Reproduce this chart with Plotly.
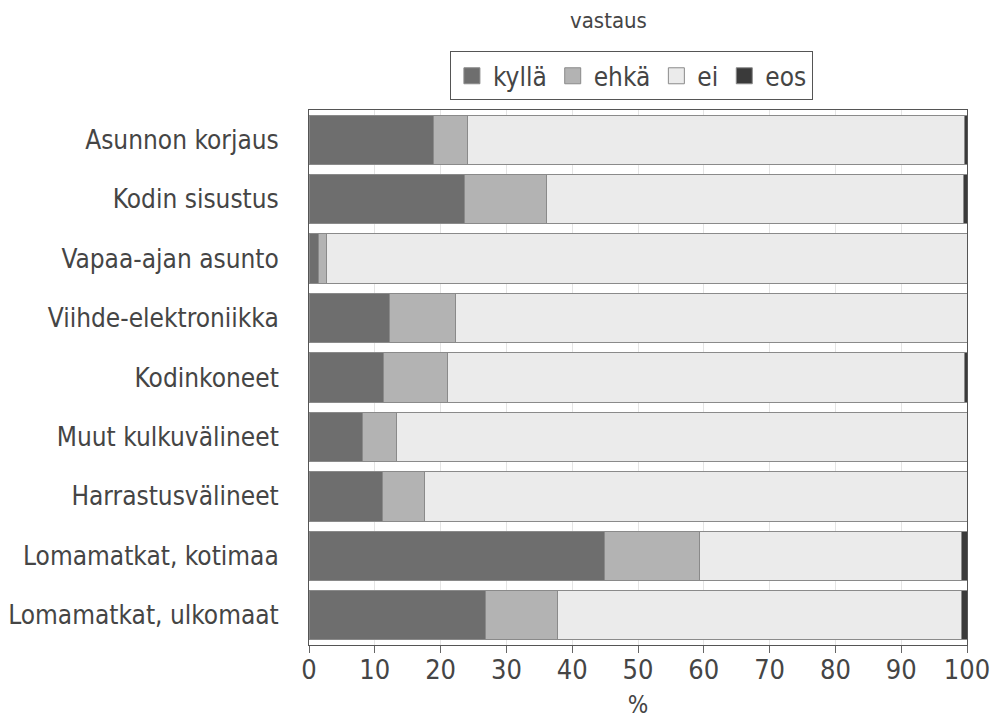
import plotly.graph_objects as go

categories = [
    "Asunnon korjaus",
    "Kodin sisustus",
    "Vapaa-ajan asunto",
    "Viihde-elektroniikka",
    "Kodinkoneet",
    "Muut kulkuvälineet",
    "Harrastusvälineet",
    "Lomamatkat, kotimaa",
    "Lomamatkat, ulkomaat",
]

kylla = [18.9, 23.6, 1.4, 12.3, 11.3, 8.2, 11.1, 44.9, 26.8]
ehka = [5.2, 12.5, 1.2, 9.9, 9.8, 5.1, 6.4, 14.4, 10.9]
eos = [0.4, 0.5, 0.0, 0.0, 0.4, 0.0, 0.0, 0.8, 0.9]
ei = [round(100 - k - e - o, 1) for k, e, o in zip(kylla, ehka, eos)]

series = [
    ("kyllä", kylla, "#6e6e6e"),
    ("ehkä", ehka, "#b3b3b3"),
    ("ei", ei, "#ebebeb"),
    ("eos", eos, "#3a3a3a"),
]

FONT = "DejaVu Sans Condensed, Roboto, sans-serif"
TXT = "#454545"

fig = go.Figure()
for name, vals, col in series:
    fig.add_trace(go.Bar(
        y=categories, x=vals, name=name, orientation="h", showlegend=False,
        marker=dict(color=col, line=dict(color="#8a8a8a", width=1)),
    ))
# legend swatches drawn as larger squares
for name, vals, col in series:
    fig.add_trace(go.Scatter(
        x=[None], y=[None], mode="markers", name=name,
        marker=dict(symbol="square", size=16, color=col,
                    line=dict(color="#8a8a8a", width=1)),
    ))

fig.update_layout(
    barmode="stack",
    bargap=0.17,
    width=991, height=719,
    margin=dict(l=309, r=24, t=110, b=74),
    paper_bgcolor="white", plot_bgcolor="white",
    font=dict(family=FONT, color=TXT, size=24),
    legend=dict(
        orientation="h", x=0.49, xanchor="center", y=1.018, yanchor="bottom",
        bordercolor="#555", borderwidth=1, font=dict(size=26),
        traceorder="normal", itemsizing="trace", itemwidth=32,
        tracegroupgap=0,
    ),
    annotations=[dict(text="vastaus", x=0.455, xref="paper", y=1.14, yref="paper",
                      yanchor="bottom", showarrow=False, font=dict(size=22))],
)
fig.update_xaxes(
    range=[0, 100], dtick=10, ticks="outside", ticklen=7, tickcolor="#666",
    showgrid=True, gridcolor="#e4e4e4", showline=True, linecolor="#555",
    linewidth=1, mirror=True, tickfont=dict(size=27), automargin=False,
    ticklabelstandoff=-6,
    title=dict(text="%", font=dict(size=24), standoff=14), zeroline=False,
)
fig.update_yaxes(
    autorange="reversed", showline=True, linecolor="#555", mirror=True,
    tickfont=dict(size=26), ticks="", ticklabelstandoff=24, automargin=False,
)

fig.write_html("out.html")
